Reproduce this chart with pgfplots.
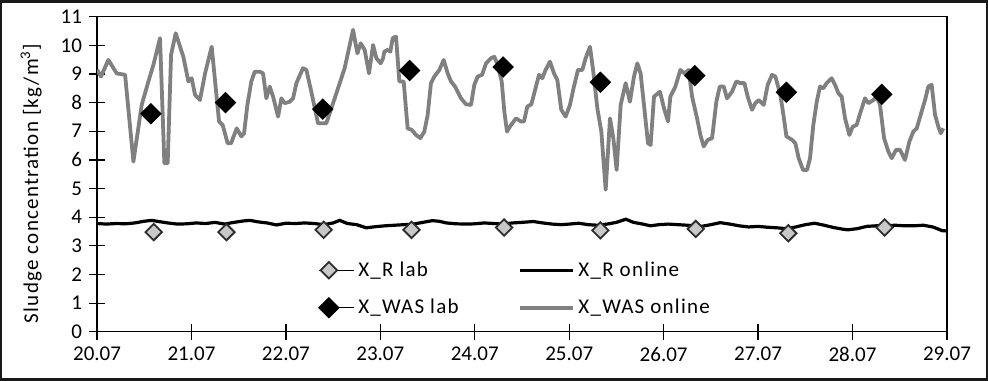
\documentclass[border=0pt]{standalone}
\usepackage{fontspec}
\setmainfont{Carlito}
% slightly tracked face for the axis title and legend texts
\newfontfamily\labelfont{Carlito}[LetterSpace=6]
\usepackage{pgfplots}
\pgfplotsset{compat=1.18}

\definecolor{wasgrey}{RGB}{128,128,128}
\definecolor{labfill}{RGB}{200,200,200}
\definecolor{labedge}{RGB}{45,45,45}

% legend symbols: a short straight line, and a single mark with room after it
\pgfplotsset{
  lineleg/.style={legend image code/.code={\draw[##1] (0pt,0pt) -- (26.5pt,0pt);}},
  markleg/.style={legend image code/.code={\path (-5pt,0pt) -- (12.5pt,0pt); \draw[##1] plot coordinates {(0pt,0pt)};}},
}

\begin{document}
\begin{tikzpicture}
\begin{axis}[
  scale only axis,
  width=425pt, height=157.6pt,
  xmin=20, xmax=29, ymin=0, ymax=11,
  xtick={20,...,29},
  xticklabels={20.07,21.07,22.07,23.07,24.07,25.07,26.07,27.07,28.07,29.07},
  ytick={0,...,11},
  tick align=center, major tick length=8pt,
  xtick pos=bottom, ytick pos=left,
  axis line style={black, line width=0.6pt},
  tick style={black, line width=0.6pt},
  font=\fontsize{10.5}{12.6}\selectfont,
  /pgf/number format/assume math mode=true,
  ylabel={Sludge concentration [kg/m\textsuperscript{3}]},
  ylabel style={at={(axis description cs:-0.0776,0.47)}, anchor=center,
    font=\labelfont\fontsize{10.5}{12.6}\selectfont},
  legend columns=2,
  legend cell align=left,
  legend style={at={(axis description cs:0.253,0.25)}, anchor=north west,
    draw=none, fill=none, font=\labelfont\fontsize{10.5}{12.6}\selectfont,
    row sep=6pt,
    /tikz/every even column/.append style={column sep=27.5pt}},
]

% online probes
\addplot[forget plot, black, line width=1.6pt] coordinates {
(20.00,3.78)(20.10,3.76)(20.20,3.78)(20.30,3.77)(20.40,3.80)(20.50,3.86)
(20.58,3.89)(20.65,3.85)(20.75,3.80)(20.85,3.76)(20.95,3.77)(21.05,3.80)
(21.15,3.78)(21.25,3.82)(21.35,3.76)(21.45,3.82)(21.55,3.87)(21.62,3.89)
(21.70,3.84)(21.80,3.80)(21.90,3.73)(22.00,3.79)(22.10,3.78)(22.20,3.80)
(22.30,3.78)(22.40,3.74)(22.50,3.80)(22.57,3.89)(22.65,3.78)(22.75,3.74)
(22.85,3.63)(22.95,3.67)(23.05,3.70)(23.15,3.72)(23.25,3.74)(23.35,3.76)
(23.45,3.82)(23.55,3.88)(23.62,3.86)(23.70,3.80)(23.80,3.77)(23.92,3.76)
(24.00,3.77)(24.10,3.80)(24.20,3.78)(24.30,3.76)(24.40,3.80)(24.50,3.82)
(24.62,3.85)(24.72,3.80)(24.82,3.76)(24.92,3.74)(25.00,3.76)(25.10,3.79)
(25.20,3.74)(25.30,3.72)(25.40,3.76)(25.50,3.82)(25.60,3.93)(25.68,3.82)
(25.78,3.76)(25.86,3.70)(25.95,3.74)(26.05,3.76)(26.15,3.74)(26.25,3.72)
(26.40,3.68)(26.50,3.74)(26.60,3.81)(26.70,3.76)(26.80,3.70)(26.90,3.66)
(27.00,3.68)(27.10,3.65)(27.20,3.63)(27.30,3.60)(27.40,3.66)(27.50,3.74)
(27.60,3.79)(27.70,3.72)(27.80,3.64)(27.90,3.58)(27.95,3.56)(28.05,3.60)
(28.15,3.68)(28.25,3.70)(28.35,3.70)(28.45,3.72)(28.55,3.70)(28.65,3.70)
(28.75,3.72)(28.85,3.66)(28.95,3.53)(29.00,3.52)
};

\addplot[forget plot, wasgrey, line width=1.9pt, line join=round] coordinates {
(20.000,9.15)(20.042,8.91)(20.120,9.49)(20.208,9.02)(20.297,8.97)(20.385,5.94)
(20.473,7.92)(20.544,8.74)(20.597,9.32)(20.667,10.25)(20.713,5.88)(20.748,5.88)
(20.784,9.67)(20.833,10.42)(20.914,9.60)(20.967,8.74)(21.002,8.85)(21.038,8.27)
(21.090,8.09)(21.144,9.02)(21.214,9.95)(21.292,7.34)(21.330,7.22)(21.383,6.58)
(21.419,6.58)(21.479,7.10)(21.528,6.82)(21.557,6.93)(21.592,7.92)(21.634,8.74)
(21.670,9.08)(21.723,9.08)(21.758,9.02)(21.793,8.15)(21.829,8.56)(21.864,8.21)
(21.917,7.51)(21.952,8.15)(21.987,7.98)(22.040,8.03)(22.076,8.15)(22.111,8.68)
(22.181,9.20)(22.217,9.14)(22.269,8.38)(22.340,7.28)(22.428,7.28)(22.517,8.15)
(22.622,9.20)(22.711,10.54)(22.757,9.72)(22.792,10.07)(22.834,9.84)(22.880,9.02)
(22.923,10.01)(22.958,9.55)(23.004,9.37)(23.029,9.55)(23.042,9.78)(23.078,9.84)
(23.106,9.78)(23.131,10.25)(23.166,10.30)(23.201,8.74)(23.247,8.74)(23.289,7.10)
(23.332,7.05)(23.378,6.87)(23.424,6.76)(23.466,6.99)(23.501,7.57)(23.536,8.68)
(23.572,8.91)(23.625,9.14)(23.671,9.49)(23.713,9.02)(23.748,8.74)(23.791,8.56)
(23.854,8.15)(23.907,7.94)(23.960,7.92)(23.995,8.62)(24.031,8.91)(24.077,8.97)
(24.119,9.37)(24.172,9.55)(24.207,9.60)(24.242,9.32)(24.285,8.74)(24.313,7.69)
(24.341,6.99)(24.384,7.22)(24.437,7.45)(24.490,7.34)(24.521,7.34)(24.556,7.86)
(24.599,7.94)(24.634,8.38)(24.680,8.97)(24.715,8.85)(24.750,9.14)(24.796,9.43)
(24.839,9.02)(24.874,8.79)(24.916,7.75)(24.962,7.51)(25.008,7.92)(25.050,8.56)
(25.093,9.14)(25.139,9.14)(25.174,9.55)(25.220,9.95)(25.255,9.08)(25.298,7.80)
(25.340,6.99)(25.386,4.96)(25.432,7.45)(25.467,6.76)(25.502,5.65)(25.545,7.92)
(25.598,8.68)(25.643,8.03)(25.686,8.91)(25.721,9.37)(25.756,9.02)(25.799,7.69)
(25.834,6.58)(25.862,6.52)(25.898,8.21)(25.961,8.38)(26.004,7.80)(26.046,7.34)
(26.071,8.21)(26.124,8.56)(26.177,9.14)(26.220,9.02)(26.265,9.14)(26.301,8.21)
(26.354,7.45)(26.389,6.87)(26.424,6.47)(26.467,6.70)(26.513,6.76)(26.558,8.03)
(26.594,8.56)(26.636,8.56)(26.671,8.15)(26.724,8.38)(26.770,8.74)(26.813,8.68)
(26.855,8.68)(26.890,8.21)(26.936,7.75)(26.971,7.98)(27.007,8.09)(27.060,7.92)
(27.102,8.62)(27.148,8.97)(27.183,8.91)(27.236,8.27)(27.271,7.51)(27.300,6.82)
(27.360,6.70)(27.395,6.58)(27.430,6.06)(27.476,5.65)(27.519,5.65)(27.550,6.06)
(27.585,7.22)(27.621,8.03)(27.656,8.56)(27.691,8.50)(27.726,8.68)(27.779,8.85)
(27.815,8.62)(27.850,8.33)(27.885,8.21)(27.921,7.45)(27.967,6.87)(28.002,7.16)
(28.044,7.22)(28.087,7.69)(28.132,8.15)(28.168,7.98)(28.221,8.09)(28.256,8.21)
(28.291,7.92)(28.334,6.76)(28.380,6.29)(28.415,6.06)(28.461,6.35)(28.503,6.35)
(28.556,6.00)(28.602,6.64)(28.644,6.99)(28.680,7.10)(28.732,7.69)(28.768,8.09)
(28.803,8.56)(28.838,8.62)(28.874,7.57)(28.909,7.16)(28.934,6.93)(28.962,7.10)
};

% laboratory samples
\addplot[forget plot, only marks, mark=square*, mark size=2.9pt,
  mark options={rotate=45, fill=labfill, draw=labedge, line width=0.9pt}] coordinates {
(20.60,3.48)(21.37,3.48)(22.40,3.56)(23.33,3.56)(24.31,3.64)
(25.33,3.54)(26.34,3.59)(27.32,3.44)(28.34,3.64)
};
\addplot[forget plot, only marks, mark=square*, mark size=3.6pt,
  mark options={rotate=45, fill=black, draw=black}] coordinates {
(20.57,7.61)(21.36,8.00)(22.39,7.77)(23.31,9.12)(24.30,9.24)
(25.33,8.71)(26.33,8.94)(27.30,8.36)(28.31,8.29)
};

% legend entries, row by row
\addlegendimage{only marks, mark=square*, mark size=2.9pt,
  mark options={rotate=45, fill=labfill, draw=labedge, line width=0.9pt}, markleg}
\addlegendentry{X\_R lab}
\addlegendimage{black, line width=1.6pt, lineleg}
\addlegendentry{X\_R online}
\addlegendimage{only marks, mark=square*, mark size=3.6pt,
  mark options={rotate=45, fill=black, draw=black}, markleg}
\addlegendentry{X\_WAS lab}
\addlegendimage{wasgrey, line width=1.9pt, lineleg}
\addlegendentry{X\_WAS online}
\end{axis}
\draw[line width=1.25pt, black!90]
  ([xshift=-47.9pt,yshift=-23.9pt]current axis.south west)
  rectangle ([xshift=19.9pt,yshift=7.7pt]current axis.north east);
\end{tikzpicture}
\end{document}
